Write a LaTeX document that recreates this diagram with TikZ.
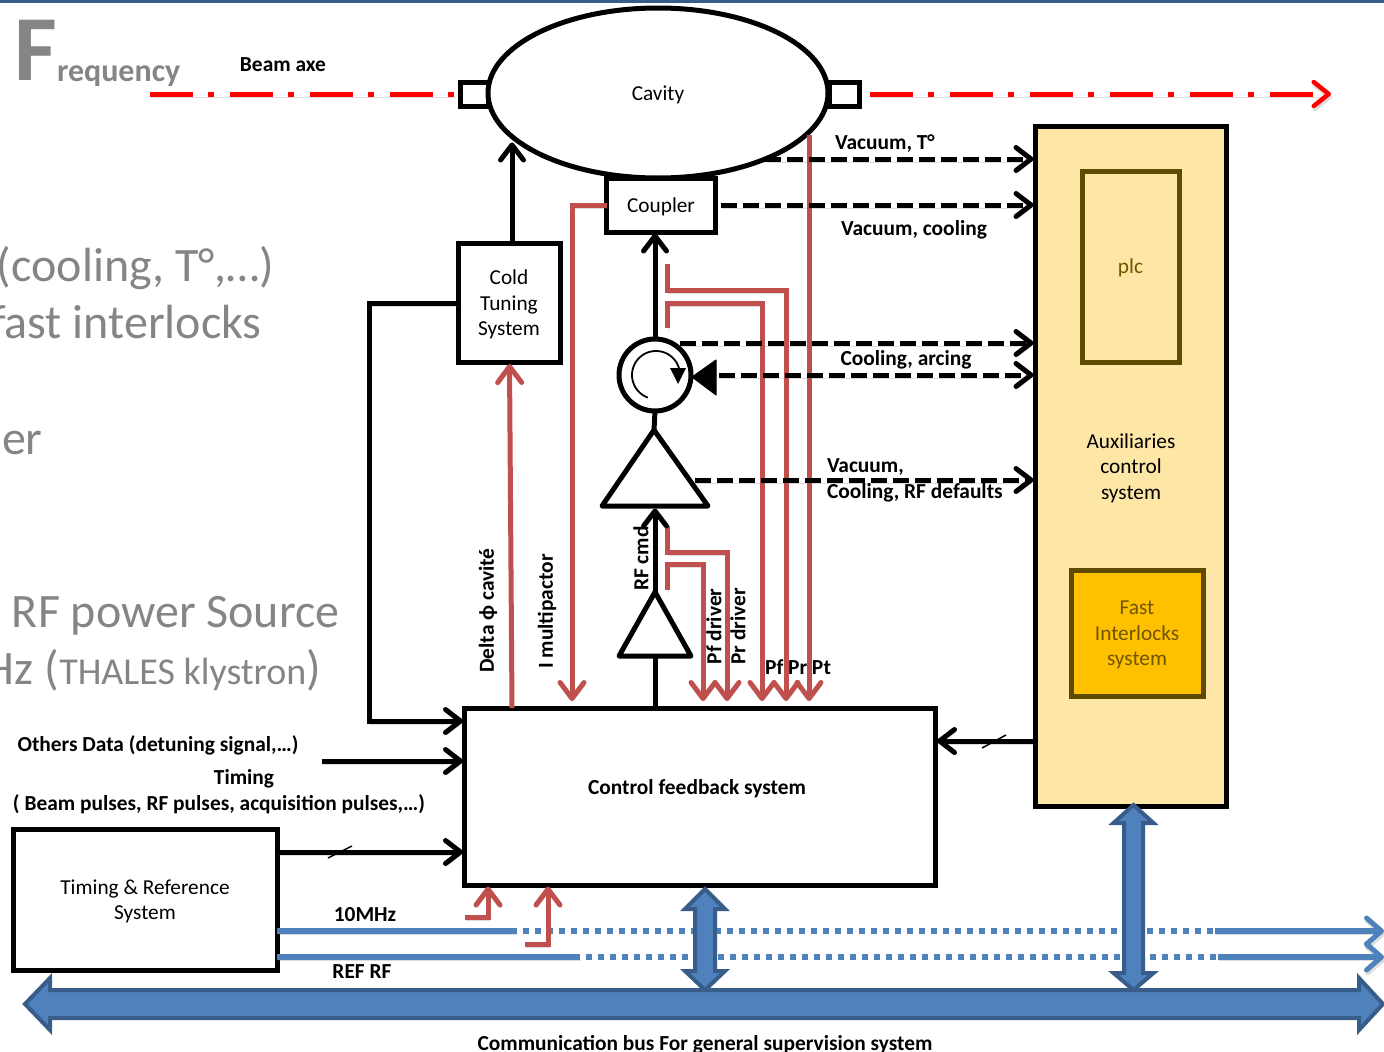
\documentclass[tikz,border=0pt]{standalone}
\usepackage{fontspec}
\setmainfont{Carlito}
\usetikzlibrary{arrows.meta,shapes.geometric}
\definecolor{rfred}{HTML}{C0504D}
\definecolor{busblue}{HTML}{4F81BD}
\definecolor{busdark}{HTML}{385D8A}
\definecolor{auxfill}{HTML}{FEE6A6}
\definecolor{fastfill}{HTML}{FFC000}
\definecolor{brownline}{HTML}{5E4A00}
\definecolor{browntext}{HTML}{6E5500}
\definecolor{slidegrey}{HTML}{858585}
\newcommand{\lowtext}[1]{\raisebox{-2pt}[\height][\depth]{\begin{tabular}{@{}c@{}}#1\end{tabular}}}
\tikzset{
  x=1pt,y=-1pt,
  softshadow/.style={preaction={draw=black!60,opacity=.22,transform canvas={yshift=-3pt,xshift=1pt}}},
  box/.style={draw=black,line width=5pt,fill=white,rectangle,inner sep=0pt,outer sep=0pt,align=center,font=\fontsize{21.3}{25.5}\selectfont},
  lab/.style={inner sep=0pt,outer sep=0pt,font=\fontsize{21.4}{26}\selectfont\bfseries,align=center,yshift=-2pt},
  vlab/.style={lab,yshift=2.5pt,xshift=1pt,rotate=90},
  bgtext/.style={inner sep=0pt,outer sep=0pt,text=slidegrey,anchor=base west},
  wire/.style={draw=black,line width=5pt,line join=miter,softshadow},
  warrow/.style={wire,shorten >=1.5pt,-{Straight Barb[length=15pt,width=23pt,line width=5pt,round]}},
  dasharrow/.style={warrow,dash pattern=on 16pt off 6pt},
  redline/.style={draw=rfred,line width=5pt,softshadow},
  redarrow/.style={redline,-{Straight Barb[length=16pt,width=24pt,line width=5pt,round]}},
  beam/.style={draw=red,line width=5pt,dash pattern=on 43pt off 15pt on 6pt off 16pt,softshadow},
  clockline/.style={draw=busblue,line width=6pt,softshadow},
  clockdots/.style={draw=busblue,line width=6pt,dash pattern=on 6pt off 6pt,dash phase=6pt},
  clockarrow/.style={clockline,-{Straight Barb[length=15pt,width=26pt,line width=5pt,round]}},
  blockarrow/.style={draw=busdark,fill=busblue,line width=4pt,line join=miter},
  tickmark/.style={draw=black,line width=1.5pt},
}
\begin{document}
\begin{tikzpicture}
\useasboundingbox (0,0) rectangle (1384,1052);
\begin{scope}
\clip (0,0) rectangle (1384,1052);
% top rule
\fill[busdark] (0,0) rectangle (1384,3);

% slide text behind the diagram
\node[bgtext,font=\fontsize{93}{93}\selectfont\bfseries] (bigf) at (14,80) {F};
\node[bgtext,font=\fontsize{32}{32}\selectfont\bfseries] (freq) at (57,81) {requency};
\node[bgtext,font=\fontsize{48}{48}\selectfont] (bg1) at (-3,281) {(cooling, T°,…)};
\node[bgtext,font=\fontsize{48}{48}\selectfont] (bg2) at (-9,338) {fast interlocks};
\node[bgtext,font=\fontsize{48}{48}\selectfont] (bg3) at (2,454) {er};
\node[bgtext,font=\fontsize{48}{48}\selectfont] (bg4) at (12,627) {RF power Source};
\node[bgtext,font=\fontsize{48}{48}\selectfont] (bg5) at (-15,684) {Hz ({\fontsize{38}{38}\selectfont THALES klystron})};

% beam axis
\coordinate (beamA) at (150,94);
\coordinate (beamB) at (455,94);
\coordinate (beamC) at (870,94);
\coordinate (beamD) at (1331,94);

% main blocks
\node[box,minimum width=28pt,minimum height=24pt] (stubL) at (474,94) {};
\node[box,minimum width=30pt,minimum height=24pt] (stubR) at (844,94) {};
\node[box,ellipse,minimum width=340pt,minimum height=170pt] (cavity) at (658,93) {\lowtext{Cavity}};
\node[box,minimum width=109pt,minimum height=54pt] (coupler) at (661,205) {\lowtext{Coupler}};
\node[box,minimum width=102pt,minimum height=119pt] (cold) at (509,303) {\lowtext{Cold\\Tuning\\System}};
\node[box,minimum width=471pt,minimum height=177pt] (ctrl) at (700,796.5) {};
\node[lab] (ctrllabel) at (697,787) {Control feedback system};
\node[box,minimum width=264pt,minimum height=141pt] (timing) at (145,900) {\lowtext{Timing \& Reference\\System}};
\node[box,fill=auxfill,minimum width=191pt,minimum height=680pt] (aux) at (1130.5,466) {};
\node[inner sep=0pt,align=center,yshift=-2pt,font=\fontsize{21.3}{25.5}\selectfont] (auxlabel) at (1131,466) {Auxiliaries\\control\\system};
\node[box,fill=auxfill,draw=brownline,text=browntext,minimum width=97pt,minimum height=191pt] (plcbox) at (1130.5,266.5) {\lowtext{plc}};
\node[box,fill=fastfill,draw=brownline,text=browntext,minimum width=132pt,minimum height=126pt] (fast) at (1137,633) {\lowtext{Fast\\Interlocks\\system}};

% RF chain
\node[box,circle,minimum size=72pt] (circ) at (655,375) {};
\coordinate (bigapex) at (654,430);
\coordinate (bigL) at (602,506);
\coordinate (bigR) at (708,506);
\coordinate (smallapex) at (655,592);
\coordinate (smallL) at (619,656);
\coordinate (smallR) at (691,656);
\coordinate (isotip) at (692,377);

% red measurement lines
\coordinate (pfdrvA) at (667,590);
\coordinate (pfdrvB) at (667,564);
\coordinate (pfdrvC) at (703,564);
\coordinate (pfdrvD) at (703,701);
\coordinate (prdrvA) at (667,526);
\coordinate (prdrvB) at (667,552);
\coordinate (prdrvC) at (727,552);
\coordinate (prdrvD) at (727,701);
\coordinate (pfA) at (667,328);
\coordinate (pfB) at (667,303);
\coordinate (pfC) at (762,303);
\coordinate (pfD) at (762,701);
\coordinate (prA) at (667,264);
\coordinate (prB) at (667,290);
\coordinate (prC) at (786,290);
\coordinate (prD) at (786,701);
\coordinate (ptA) at (809,135);
\coordinate (ptD) at (809,701);
\coordinate (imA) at (572,205);
\coordinate (imD) at (572,701);
\coordinate (phiA) at (512,708);
\coordinate (phiD) at (509.5,364);
\draw[redarrow] (phiA) -- (phiD);
\draw[redarrow] (coupler.west) -- (imA) -- (imD);
\draw[redarrow] (pfdrvA) -- (pfdrvB) -- (pfdrvC) -- (pfdrvD);
\draw[redarrow] (prdrvA) -- (prdrvB) -- (prdrvC) -- (prdrvD);
\draw[redarrow] (pfA) -- (pfB) -- (pfC) -- (pfD);
\draw[redarrow] (prA) -- (prB) -- (prC) -- (prD);
\draw[redarrow] (ptA) -- (ptD);

% black signal lines
\draw[warrow] ([xshift=3pt]cold.north) -- (512,141);
\draw[warrow] (circ.north) -- (coupler.south -| circ.north);
\draw[wire] (circ.south) -- (bigapex);
\draw[warrow] (smallapex) -- (655,507);
\draw[wire] (ctrl.north -| smallapex) -- (655,656);
\coordinate (coldleft) at (369,303);
\coordinate (coldctrl) at (369,721);
\draw[warrow] (cold.west |- coldleft) -- (coldleft) -- (coldctrl) -- (coldctrl -| ctrl.west);
\coordinate (othersA) at (322,761);
\draw[warrow] (othersA) -- (othersA -| ctrl.west);
\coordinate (timingA) at (277,852);
\draw[warrow] (timingA) -- (timingA -| ctrl.west);
\draw[tickmark] (328,858) -- (352,846);
\coordinate (auxA) at (1035,741);
\draw[warrow] (auxA) -- (auxA -| ctrl.east);
\draw[tickmark] (982,748) -- (1006,735);

% triangles and circulator marks
\draw[box,line join=round] (bigapex) -- (bigL) -- (bigR) -- cycle;
\draw[box,line join=round] (smallapex) -- (smallL) -- (smallR) -- cycle;
\draw[black,line width=1.8pt] plot[domain=250:8,samples=50,smooth] ({656+24*cos(\x)},{375-24*sin(\x)});
\fill[black] (670,368) -- (686,368) -- (678,384) -- cycle;
\fill[black,draw=black,line width=1pt,line join=round] (isotip) -- (716,360) -- (716,395) -- cycle;

% auxiliary status lines
\coordinate (vtA) at (765,159);
\coordinate (ccA) at (721,205);
\coordinate (carcA) at (680,343);
\coordinate (carcB) at (719,375);
\coordinate (vrfA) at (695,480);
\draw[dasharrow] (vtA) -- (vtA -| aux.west);
\draw[dasharrow] (ccA) -- (ccA -| aux.west);
\draw[dasharrow] (carcA) -- (carcA -| aux.west);
\draw[dasharrow] (carcB) -- (carcB -| aux.west);
\draw[dasharrow] (vrfA) -- (vrfA -| aux.west);

% beam
\draw[beam] (beamA) -- (beamB);
\draw[beam,-{Straight Barb[length=15pt,width=24pt,line width=4.5pt,round]}] (beamC) -- (beamD);

% clock lines
\coordinate (mhzA) at (timing.east |- 0,931);
\coordinate (mhzB) at (517,931);
\coordinate (mhzC) at (1215,931);
\coordinate (mhzD) at (1384,931);
\coordinate (refA) at (timing.east |- 0,957);
\coordinate (refB) at (580,957);
\coordinate (refC) at (1218,957);
\coordinate (refD) at (1384,957);
\draw[clockline] (mhzA) -- (mhzB);
\draw[clockdots] (mhzB) -- (mhzC);
\draw[clockarrow] (mhzC) -- (mhzD);
\draw[clockline] (refA) -- (refB);
\draw[clockdots] (refB) -- (refC);
\draw[clockarrow] (refC) -- (refD);

% red reference tap-offs
\coordinate (tapA) at (465,917);
\coordinate (tapB) at (488,917);
\coordinate (tapC) at (525,944);
\coordinate (tapD) at (548,944);
\draw[redarrow,shorten >=1.5pt] (tapA) -- (tapB) -- (tapB |- ctrl.south);
\draw[redarrow,shorten >=1.5pt] (tapC) -- (tapD) -- (tapD |- ctrl.south);

% block arrows
\path[blockarrow] (705,889) -- (725,909) -- (715,909) -- (715,971) -- (725,971) -- (705,990) -- (685,971) -- (695,971) -- (695,909) -- (685,909) -- cycle;
\path[blockarrow] (1133.5,805) -- (1153.5,823) -- (1143,823) -- (1143,973) -- (1153.5,973) -- (1133.5,990) -- (1113.5,973) -- (1124,973) -- (1124,823) -- (1113.5,823) -- cycle;
\path[blockarrow] (25,1004) -- (50,978) -- (50,990) -- (1359,990) -- (1359,978) -- (1383,1004) -- (1359,1030) -- (1359,1018) -- (50,1018) -- (50,1030) -- cycle;

% labels
\node[lab] (lbeam) at (283,63) {Beam axe};
\node[lab] (lvt) at (885,142) {Vacuum, T°};
\node[lab] (lvc) at (914,228) {Vacuum, cooling};
\node[lab] (lca) at (906,358) {Cooling, arcing};
\node[lab,align=left,anchor=west] (lvrf) at (827,478) {Vacuum,\\Cooling, RF defaults};
\node[lab] (loth) at (158,743) {Others Data (detuning signal,…)};
\node[lab] (ltim) at (244,777) {Timing};
\node[lab] (lbp) at (219,802) {( Beam pulses, RF pulses, acquisition pulses,…)};
\node[lab] (l10) at (365,913) {10MHz};
\node[lab] (lref) at (362,970) {REF RF};
\node[lab] (lbus) at (705,1043) {Communication bus For general supervision system};
\node[vlab] (lphi) at (487,611) {Delta ϕ cavité};
\node[vlab] (lim) at (546,612) {I multipactor};
\node[vlab] (lrf) at (640,559) {RF cmd};
\node[vlab] (lpfd) at (713,627) {Pf driver};
\node[vlab] (lprd) at (737,627) {Pr driver};
\node[lab] (lpf) at (798,665) {Pf Pr Pt};
\end{scope}
\end{tikzpicture}
\end{document}
